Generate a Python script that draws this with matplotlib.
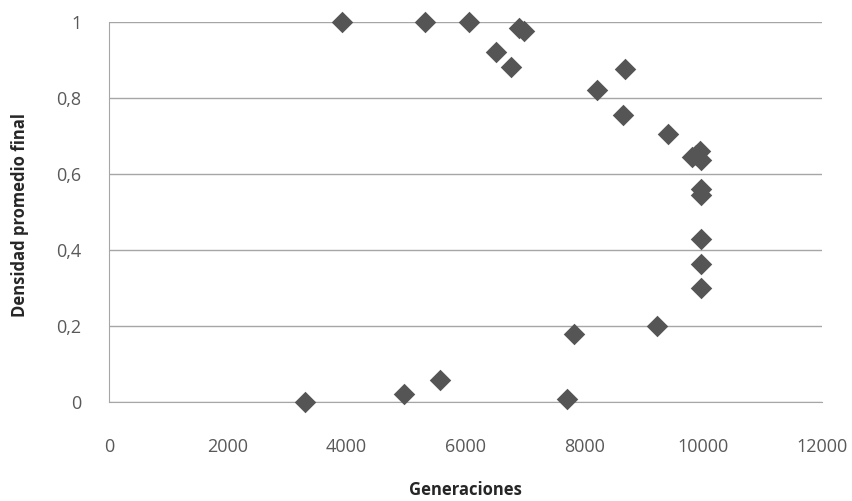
import matplotlib
matplotlib.use("Agg")
import matplotlib.pyplot as plt
from matplotlib.ticker import FuncFormatter

generaciones = [3300, 3920, 5320, 6060, 6515, 6770, 6900, 6990, 4970, 5570, 7710, 7830,
                8215, 8690, 8650, 9410, 9225, 9815, 9880, 9950, 9960, 9960, 9960, 9960, 9960, 9960]
densidad = [0.0, 1.0, 1.0, 1.0, 0.921, 0.882, 0.984, 0.976, 0.021, 0.058, 0.008, 0.179,
            0.821, 0.876, 0.755, 0.705, 0.2, 0.645, 0.65, 0.66, 0.637, 0.56, 0.545, 0.429, 0.363, 0.3]

x_ticks = [0, 2000, 4000, 6000, 8000, 10000, 12000]
y_ticks = [0, 0.2, 0.4, 0.6, 0.8, 1.0]

plt.rcParams['font.family'] = ['Open Sans', 'DejaVu Sans']

fig = plt.figure(figsize=(8.53, 5.01), dpi=100)
ax = fig.add_axes([109/853, 1-402/501, (822-109)/853, (402-22)/501])

ax.scatter(generaciones, densidad, marker='D', s=120, color='#555555', zorder=3,
           linewidths=0, clip_on=False)

ax.set_xlim(0, 12000)
ax.set_ylim(0, 1)
ax.set_xticks(x_ticks)
ax.set_yticks(y_ticks)
ax.yaxis.set_major_formatter(FuncFormatter(lambda v, p: ('%g' % v).replace('.', ',')))
ax.grid(axis='y', color='#a6a6a6', linewidth=1)
ax.set_axisbelow(True)
for s in ['top', 'right']:
    ax.spines[s].set_visible(False)
ax.spines['left'].set_color('#a6a6a6')
ax.spines['bottom'].set_color('#a6a6a6')
ax.tick_params(axis='both', length=0, labelsize=13, colors='#595959')
ax.tick_params(axis='x', pad=26)
ax.tick_params(axis='y', pad=20)

fig.text(465/853, 1-490/501, 'Generaciones', ha='center', va='center', fontsize=12, fontweight='bold', color='#262626')
fig.text(20/853, 1-215/501, 'Densidad promedio final', ha='center', va='center', rotation=90,
         fontsize=12, fontweight='bold', color='#262626')

fig.savefig('out.png', dpi=100)
